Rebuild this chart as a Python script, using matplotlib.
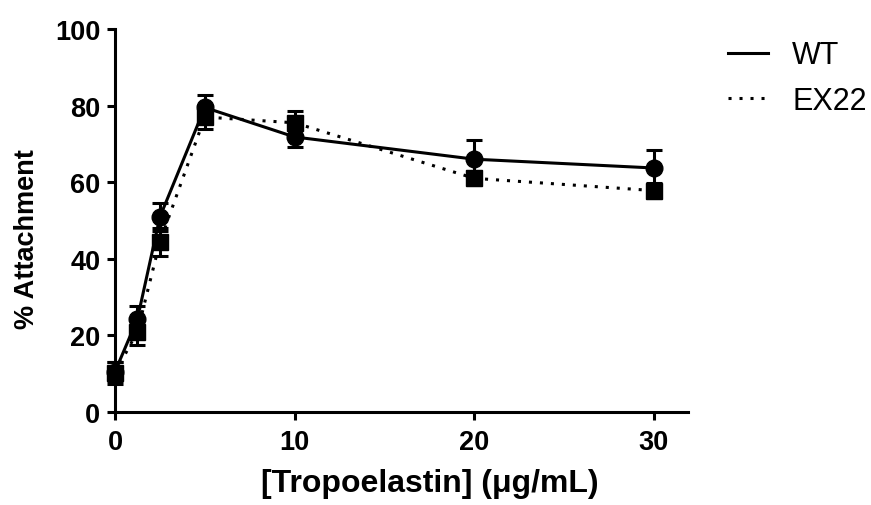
import matplotlib
matplotlib.use("Agg")
import matplotlib.pyplot as plt
from matplotlib.lines import Line2D

# Tropoelastin concentration (ug/mL)
conc = [0, 1.25, 2.5, 5, 10, 20, 30]

# % attachment, mean and SEM
wt_mean = [10.5, 24.3, 50.9, 79.5, 71.8, 66.0, 63.7]
wt_sem = [2.5, 3.5, 3.7, 3.3, 2.5, 5.0, 4.7]
ex22_mean = [10.2, 21.0, 44.4, 77.0, 75.5, 61.0, 57.8]
ex22_sem = [2.8, 3.5, 3.6, 3.2, 3.2, 1.8, 2.0]

x_ticks = [0, 10, 20, 30]
y_ticks = [0, 20, 40, 60, 80, 100]

plt.rcParams["font.family"] = ["Liberation Sans", "DejaVu Sans"]

fig = plt.figure(figsize=(8.71, 5.06), dpi=100)
ax = fig.add_axes([0.132, 0.1838, 0.658, 0.757])

lw = 2.2
dotted = (0, (1, 2.6))
ax.errorbar(conc, wt_mean, yerr=wt_sem, color="black", lw=lw, marker="o",
            markersize=12, capsize=6, capthick=lw, elinewidth=lw, clip_on=False)
ax.errorbar(conc, ex22_mean, yerr=ex22_sem, color="black", lw=lw, marker="s",
            markersize=11, capsize=6, capthick=lw, elinewidth=lw,
            ls=dotted, clip_on=False)

ax.set_xlim(0, 31.9)
ax.set_ylim(0, 100)
ax.set_xticks(x_ticks)
ax.set_yticks(y_ticks)
for s in ["top", "right"]:
    ax.spines[s].set_visible(False)
for s in ["left", "bottom"]:
    ax.spines[s].set_linewidth(2.2)
ax.tick_params(width=2.2, length=5.5, labelsize=19.5)
ax.tick_params(axis="x", pad=7)
ax.tick_params(axis="y", pad=5)
for lab in ax.get_xticklabels() + ax.get_yticklabels():
    lab.set_fontweight("bold")

ax.set_xlabel("[Tropoelastin] (\u03bcg/mL)", fontsize=23, fontweight="bold")
ax.set_ylabel("% Attachment", fontsize=19.5, fontweight="bold")
ax.xaxis.set_label_coords(0.55, -0.145)
ax.yaxis.set_label_coords(-0.13, 0.455)

handles = [Line2D([], [], color="black", lw=lw),
           Line2D([], [], color="black", lw=lw, ls=dotted)]
fig.legend(handles, ["WT", "EX22"], loc="upper left", bbox_to_anchor=(0.836, 0.918),
           frameon=False, fontsize=22, handlelength=1.3, handletextpad=0.8,
           labelspacing=0.5, borderpad=0, borderaxespad=0)

fig.savefig("out.png", dpi=100)
